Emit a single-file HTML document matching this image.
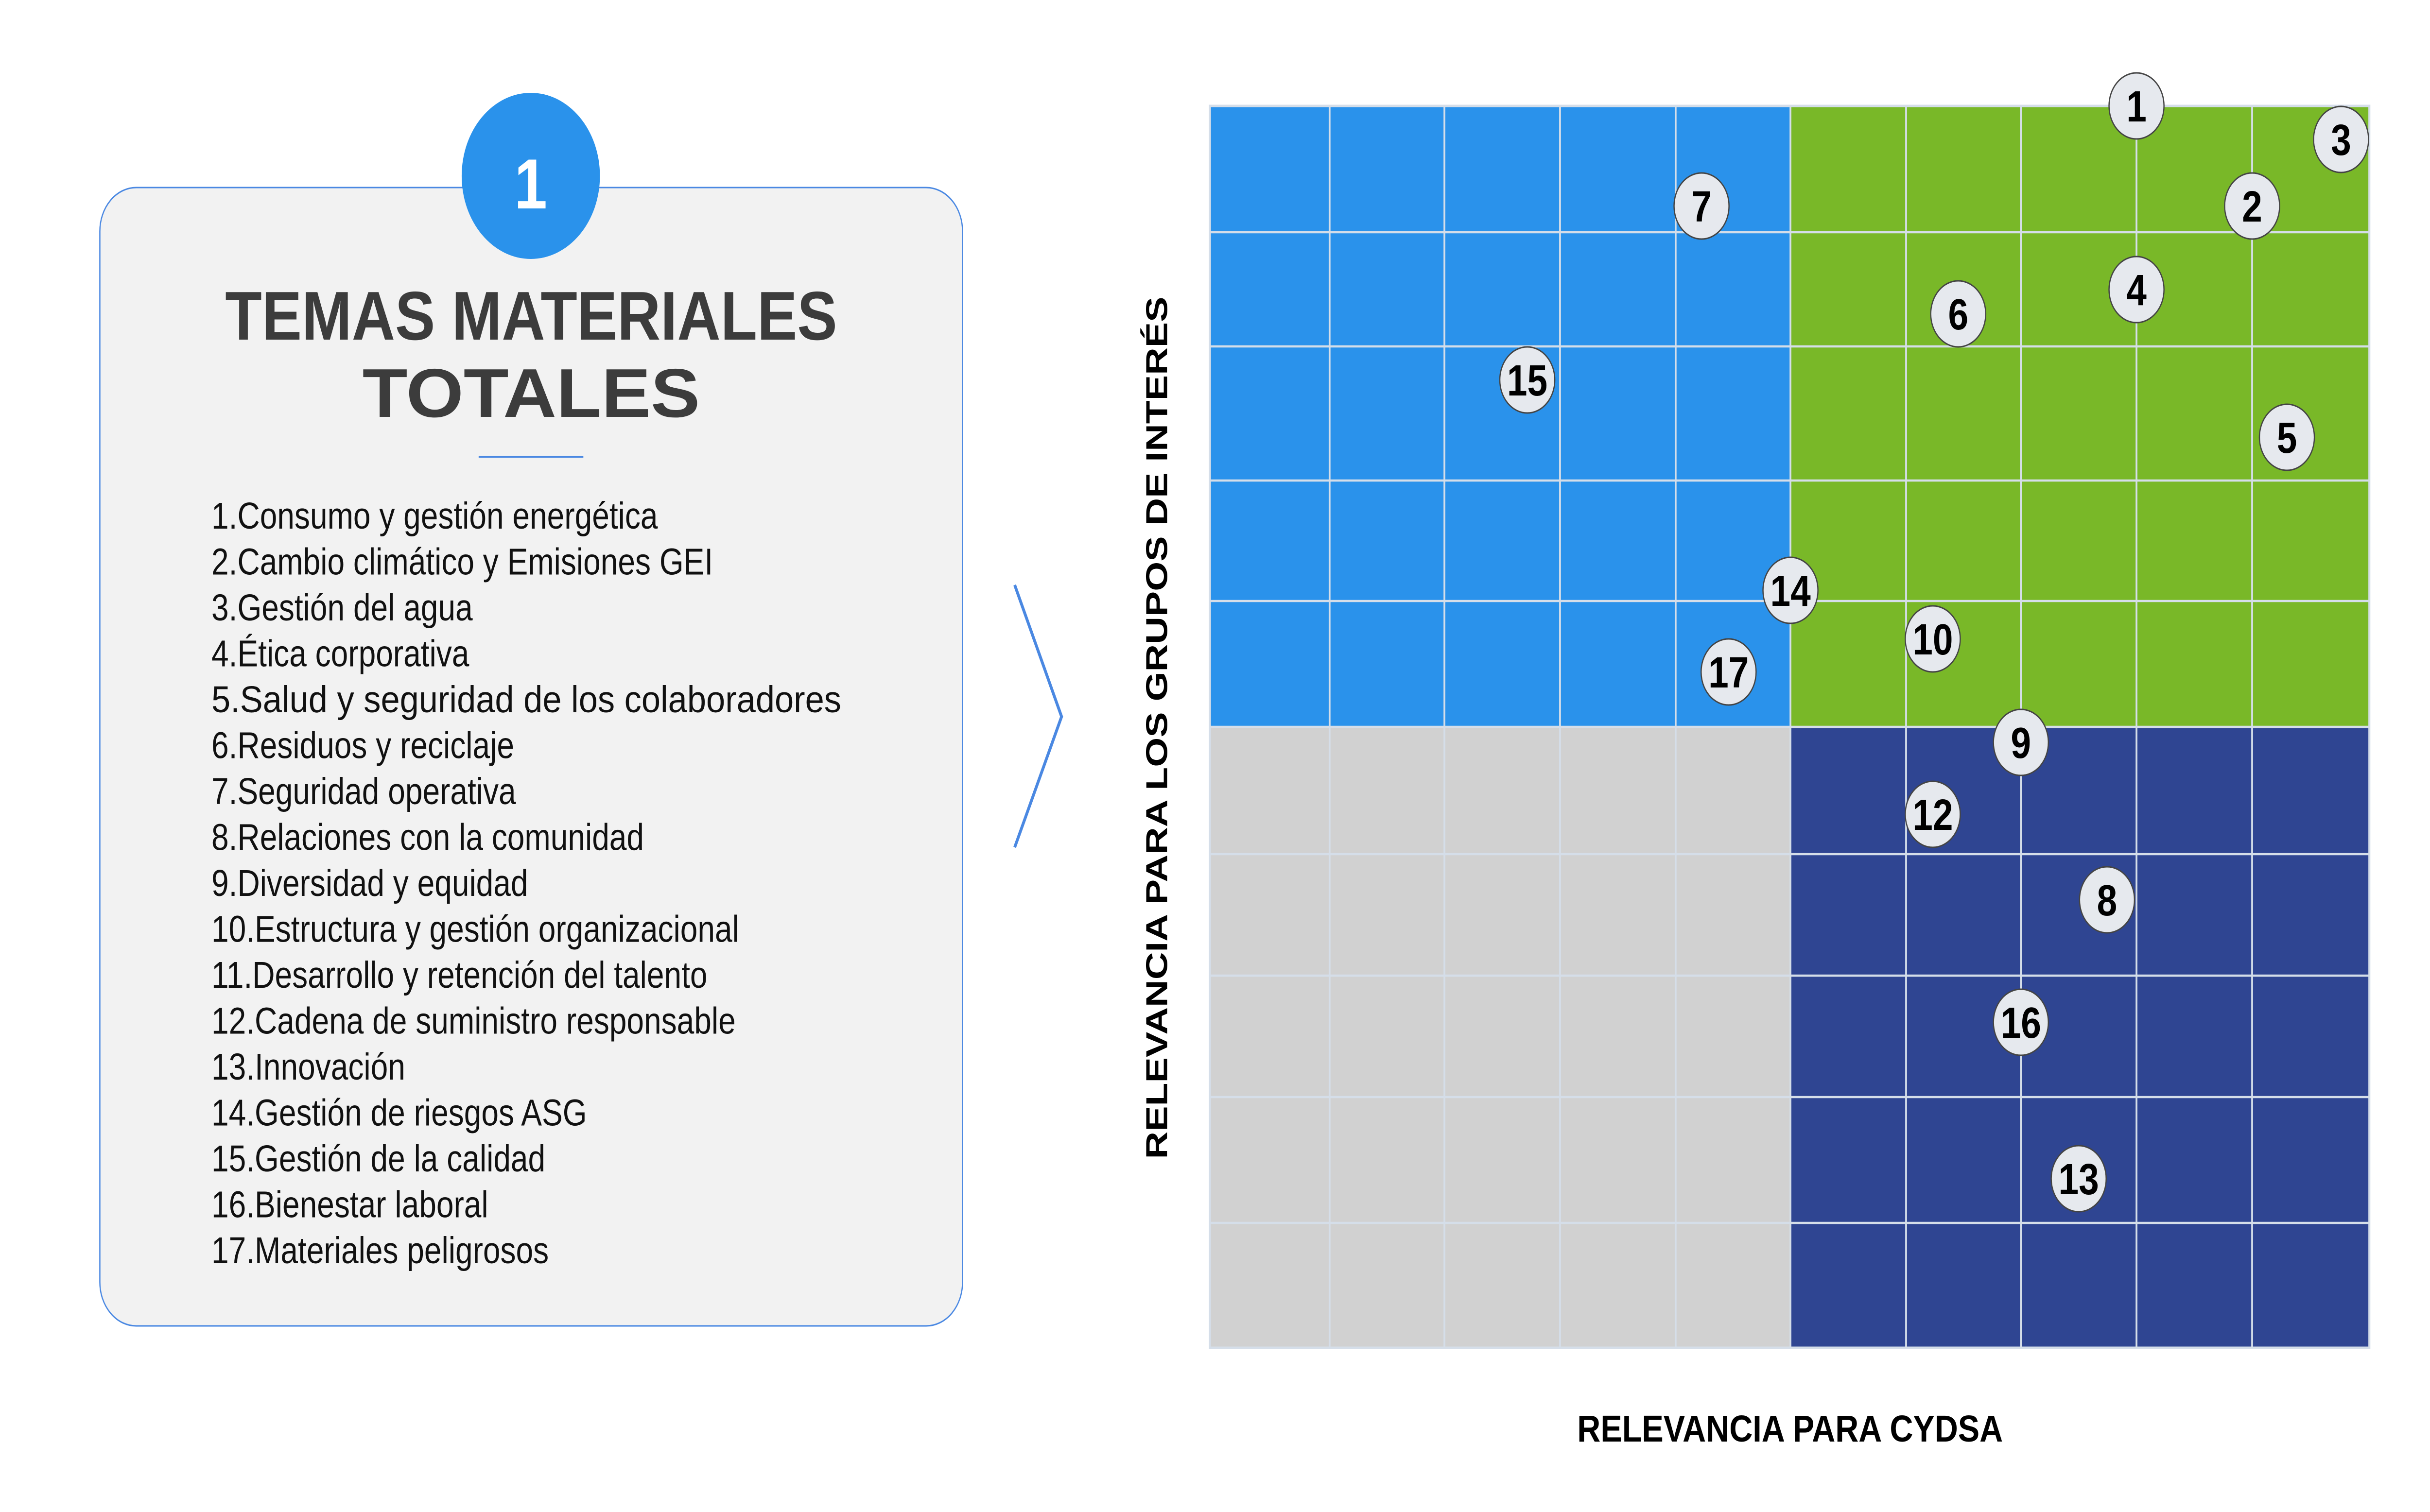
<!DOCTYPE html>
<html><head><meta charset="utf-8"><style>
html,body{margin:0;padding:0;background:#fff;width:100%;height:100%;overflow:hidden;}
svg{display:block;width:100vw;height:100vh;}
text{font-family:"Liberation Sans",sans-serif;}
</style></head><body>
<svg viewBox="0 0 6011 3112" preserveAspectRatio="none" xmlns="http://www.w3.org/2000/svg">
<rect x="0" y="0" width="6011" height="3112" fill="#fff"/>
<rect x="247" y="386" width="2134" height="2343" rx="90" ry="90" fill="#f2f2f2" stroke="#4a88e2" stroke-width="3"/>
<circle cx="1313" cy="362" r="171" fill="#2a92eb"/>
<text x="1313" y="429" font-size="146" font-weight="bold" fill="#fff" text-anchor="middle">1</text>
<text x="1314" y="699" font-size="142" font-weight="bold" fill="#3c3c3c" text-anchor="middle" textLength="1514" lengthAdjust="spacingAndGlyphs">TEMAS MATERIALES</text>
<text x="1314" y="858" font-size="142" font-weight="bold" fill="#3c3c3c" text-anchor="middle" textLength="835" lengthAdjust="spacingAndGlyphs">TOTALES</text>
<rect x="1184" y="938" width="259" height="4" fill="#4a88e2"/>
<g font-size="77" fill="#111">
<text x="523" y="1088">1.Consumo y gestión energética</text>
<text x="523" y="1182.5">2.Cambio climático y Emisiones GEI</text>
<text x="523" y="1277">3.Gestión del agua</text>
<text x="523" y="1371.5">4.Ética corporativa</text>
<text x="523" y="1466" textLength="1558" lengthAdjust="spacingAndGlyphs">5.Salud y seguridad de los colaboradores</text>
<text x="523" y="1560.5">6.Residuos y reciclaje</text>
<text x="523" y="1655">7.Seguridad operativa</text>
<text x="523" y="1749.5">8.Relaciones con la comunidad</text>
<text x="523" y="1844">9.Diversidad y equidad</text>
<text x="523" y="1938.5">10.Estructura y gestión organizacional</text>
<text x="523" y="2033">11.Desarrollo y retención del talento</text>
<text x="523" y="2127.5">12.Cadena de suministro responsable</text>
<text x="523" y="2222">13.Innovación</text>
<text x="523" y="2316.5">14.Gestión de riesgos ASG</text>
<text x="523" y="2411">15.Gestión de la calidad</text>
<text x="523" y="2505.5">16.Bienestar laboral</text>
<text x="523" y="2600">17.Materiales peligrosos</text>
</g>
<polyline points="2510,1204 2626,1475 2510,1744" fill="none" stroke="#4a88e2" stroke-width="7"/>
<text transform="translate(2887,1498) rotate(-90)" x="0" y="0" font-size="75" font-weight="bold" fill="#000" text-anchor="middle" textLength="1775" lengthAdjust="spacingAndGlyphs">RELEVANCIA PARA LOS GRUPOS DE INTERÉS</text>
<rect x="2993" y="218" width="1436" height="1278" fill="#2a92eb"/>
<rect x="4429" y="218" width="1432" height="1278" fill="#79b828"/>
<rect x="2993" y="1496" width="1436" height="1278" fill="#d1d1d1"/>
<rect x="4429" y="1496" width="1432" height="1278" fill="#2f4592"/>
<g stroke="#d5dee9" stroke-width="4.5">
<line x1="3289" y1="218" x2="3289" y2="2774"/>
<line x1="3573" y1="218" x2="3573" y2="2774"/>
<line x1="3859" y1="218" x2="3859" y2="2774"/>
<line x1="4145" y1="218" x2="4145" y2="2774"/>
<line x1="4429" y1="218" x2="4429" y2="2774"/>
<line x1="4715" y1="218" x2="4715" y2="2774"/>
<line x1="4999" y1="218" x2="4999" y2="2774"/>
<line x1="5285" y1="218" x2="5285" y2="2774"/>
<line x1="5571" y1="218" x2="5571" y2="2774"/>
<line x1="2993" y1="478" x2="5861" y2="478"/>
<line x1="2993" y1="713" x2="5861" y2="713"/>
<line x1="2993" y1="989" x2="5861" y2="989"/>
<line x1="2993" y1="1237" x2="5861" y2="1237"/>
<line x1="2993" y1="1496" x2="5861" y2="1496"/>
<line x1="2993" y1="1758" x2="5861" y2="1758"/>
<line x1="2993" y1="2008" x2="5861" y2="2008"/>
<line x1="2993" y1="2258" x2="5861" y2="2258"/>
<line x1="2993" y1="2517" x2="5861" y2="2517"/>
</g>
<rect x="2993" y="218" width="2868" height="2556" fill="none" stroke="#d5dee9" stroke-width="5"/>
<g fill="#e6e9ee" stroke="#444" stroke-width="3">
<circle cx="5285" cy="218" r="68"/>
<circle cx="5791" cy="287" r="68"/>
<circle cx="4209" cy="424" r="68"/>
<circle cx="5571" cy="424" r="68"/>
<circle cx="5285" cy="596" r="68"/>
<circle cx="4844" cy="646" r="68"/>
<circle cx="3778" cy="782" r="68"/>
<circle cx="5657" cy="900" r="68"/>
<circle cx="4429" cy="1215" r="68"/>
<circle cx="4781" cy="1315" r="68"/>
<circle cx="4276" cy="1383" r="68"/>
<circle cx="4999" cy="1528" r="68"/>
<circle cx="4781" cy="1676" r="68"/>
<circle cx="5212" cy="1852" r="68"/>
<circle cx="4999" cy="2104" r="68"/>
<circle cx="5142" cy="2426" r="68"/>
</g>
<g font-size="90" font-weight="bold" fill="#000" text-anchor="middle">
<text x="5285" y="250">1</text>
<text x="5791" y="319">3</text>
<text x="4209" y="456">7</text>
<text x="5571" y="456">2</text>
<text x="5285" y="628">4</text>
<text x="4844" y="678">6</text>
<text x="3778" y="814">15</text>
<text x="5657" y="932">5</text>
<text x="4429" y="1247">14</text>
<text x="4781" y="1347">10</text>
<text x="4276" y="1415">17</text>
<text x="4999" y="1560">9</text>
<text x="4781" y="1708">12</text>
<text x="5212" y="1884">8</text>
<text x="4999" y="2136">16</text>
<text x="5142" y="2458">13</text>
</g>
<text x="4428" y="2967" font-size="77" font-weight="bold" fill="#000" text-anchor="middle" textLength="1053" lengthAdjust="spacingAndGlyphs">RELEVANCIA PARA CYDSA</text>
</svg>
</body></html>
